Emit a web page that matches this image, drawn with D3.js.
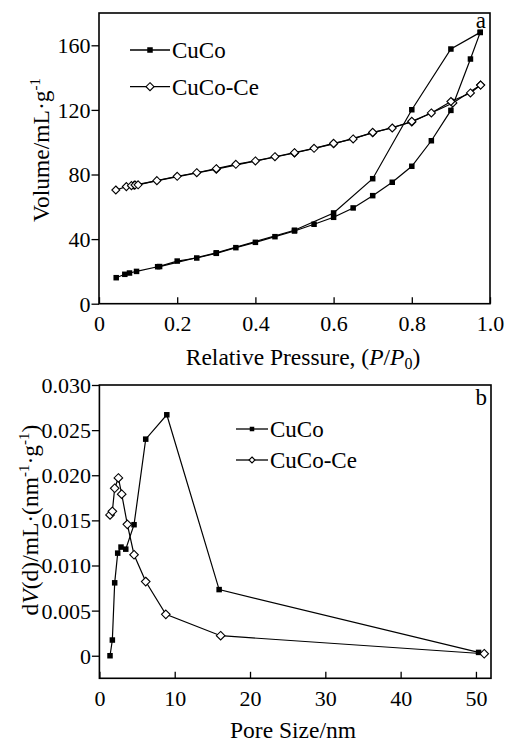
<!DOCTYPE html>
<html>
<head>
<meta charset="utf-8">
<script src="https://cdn.jsdelivr.net/npm/d3@7"></script>
<style>
  body { margin: 0; background: #fff; }
  text { font-family: "Liberation Serif", "Times New Roman", serif; fill: #000; }
</style>
</head>
<body>
<div id="chart"></div>
<script>
// data: (a) N2 isotherms
var adsPressureCuCo = [0.044, 0.066, 0.078, 0.096, 0.15, 0.2, 0.25, 0.3, 0.35, 0.4, 0.45, 0.5, 0.55, 0.6, 0.65, 0.7, 0.75, 0.8, 0.85, 0.9, 0.95, 0.975];
var adsVolumeCuCo = [16.1, 18.2, 19.0, 20.0, 22.9, 26.4, 28.3, 31.2, 34.7, 38.0, 41.5, 45.0, 49.2, 53.5, 59.3, 66.9, 75.2, 85.1, 100.9, 119.7, 151.5, 168.0];
var desPressureCuCo = [0.975, 0.9, 0.8, 0.7, 0.6, 0.5, 0.3, 0.155];
var desVolumeCuCo = [168.0, 157.7, 120.1, 77.4, 56.2, 45.5, 31.5, 23.0];

var adsPressureCe = [0.043, 0.07, 0.083, 0.092, 0.1, 0.148, 0.2, 0.25, 0.3, 0.35, 0.4, 0.45, 0.5, 0.55, 0.6, 0.65, 0.7, 0.75, 0.8, 0.85, 0.9, 0.95, 0.976];
var adsVolumeCe = [70.4, 72.5, 73.1, 73.5, 73.6, 76.2, 78.9, 81.1, 83.6, 86.3, 88.4, 91.0, 93.5, 96.2, 99.3, 102.0, 106.1, 108.8, 112.9, 118.1, 125.2, 130.5, 135.4];
var desPressureCe = [0.976, 0.905, 0.8, 0.7, 0.6, 0.5, 0.3, 0.09];
var desVolumeCe = [135.4, 124.3, 112.5, 105.8, 99.0, 93.3, 83.3, 73.4];

// data: (b) pore size distribution
var poreSizeCuCo = [1.41, 1.72, 2.03, 2.43, 2.87, 3.5, 4.6, 6.15, 8.95, 15.9, 50.35];
var dVCuCo = [0.0, 0.00174, 0.00808, 0.01137, 0.01204, 0.01181, 0.01452, 0.0240, 0.0267, 0.00733, 0.00037];
var poreSizeCe = [1.41, 1.72, 2.03, 2.52, 2.96, 3.71, 4.6, 6.15, 8.82, 16.1, 51.1];
var dVCe = [0.0156, 0.0160, 0.01856, 0.0197, 0.0179, 0.01456, 0.01119, 0.00822, 0.00459, 0.00222, 0.00022];

var seriesNames = ["CuCo", "CuCo-Ce"];
var xTicksA = [0, 0.2, 0.4, 0.6, 0.8, 1.0];
var yTicksA = [0, 40, 80, 120, 160];
var xTicksB = [0, 10, 20, 30, 40, 50];
var yTicksB = [0, 0.005, 0.010, 0.015, 0.020, 0.025, 0.030];

var svgWidth = 508;
var svgHeight = 742;
var tickFont = 22;
var titleFont = 23.5;
var legendFont = 23;

var svg = d3.select("#chart")
  .append("svg")
  .attr("width", svgWidth)
  .attr("height", svgHeight);

// panel boxes
var boxA = { left: 99, top: 13, width: 391, height: 290.7 };
var boxB = { left: 99.4, top: 385, width: 391.6, height: 293.3 };

function zip(xs, ys) {
  return xs.map(function(x, i) { return [x, ys[i]]; });
}

// draw frame, ticks and tick labels for one panel
function drawAxes(g, box, x, y, xTicks, yTicks, xFmt, yFmt) {
  var xAxis = d3.axisBottom(x).tickValues(xTicks).tickSize(-6.5).tickPadding(12).tickFormat(xFmt);
  var yAxis = d3.axisLeft(y).tickValues(yTicks).tickSize(7.5).tickPadding(1).tickFormat(yFmt);

  var gx = g.append("g")
    .attr("transform", `translate(0, ${box.height})`)
    .call(xAxis);
  var gy = g.append("g").call(yAxis);

  [gx, gy].forEach(function(a) {
    a.select(".domain").remove();
    a.selectAll("line").attr("stroke", "#000").attr("stroke-width", 1.3);
    a.selectAll("text")
      .attr("font-size", tickFont)
      .attr("font-family", "Liberation Serif, serif")
      .attr("fill", "#000");
  });
  gx.selectAll("text").attr("dy", "0.71em");
  gy.selectAll("text").attr("dy", "0.34em");

  g.append("rect")
    .attr("width", box.width)
    .attr("height", box.height)
    .attr("fill", "none")
    .attr("stroke", "#000")
    .attr("stroke-width", 1.6);
}

function drawLine(g, pts, x, y) {
  g.append("path")
    .datum(pts)
    .attr("fill", "none")
    .attr("stroke", "#000")
    .attr("stroke-width", 1.2)
    .attr("d", d3.line().x(d => x(d[0])).y(d => y(d[1])));
}

function drawSquares(g, pts, x, y, s) {
  g.selectAll(null)
    .data(pts)
    .enter()
    .append("rect")
    .attr("x", d => x(d[0]) - s / 2)
    .attr("y", d => y(d[1]) - s / 2)
    .attr("width", s)
    .attr("height", s)
    .attr("fill", "#000");
}

function drawDiamonds(g, pts, x, y, r) {
  g.selectAll(null)
    .data(pts)
    .enter()
    .append("path")
    .attr("transform", d => `translate(${x(d[0])}, ${y(d[1])})`)
    .attr("d", `M0,${-r}L${r},0L0,${r}L${-r},0Z`)
    .attr("fill", "#fff")
    .attr("stroke", "#000")
    .attr("stroke-width", 1.1);
}

function drawLegend(g, lx, ly, gap, lineLen, sq, dr, size) {
  seriesNames.forEach(function(name, i) {
    var yy = ly + i * gap;
    g.append("line")
      .attr("x1", lx).attr("x2", lx + lineLen)
      .attr("y1", yy).attr("y2", yy)
      .attr("stroke", "#000").attr("stroke-width", 1.3);
    var mx = lx + lineLen / 2;
    if (i === 0) {
      g.append("rect")
        .attr("x", mx - sq / 2).attr("y", yy - sq / 2)
        .attr("width", sq).attr("height", sq)
        .attr("fill", "#000");
    } else {
      g.append("path")
        .attr("transform", `translate(${mx}, ${yy})`)
        .attr("d", `M0,${-dr}L${dr},0L0,${dr}L${-dr},0Z`)
        .attr("fill", "#fff").attr("stroke", "#000").attr("stroke-width", 1.1);
    }
    g.append("text")
      .attr("x", lx + lineLen + 2)
      .attr("y", yy)
      .attr("dy", "0.35em")
      .attr("font-size", size)
      .text(name);
  });
}

//////////////////////////////////////////////////////
// panel a
var gA = svg.append("g").attr("transform", `translate(${boxA.left}, ${boxA.top})`);
var xA = d3.scaleLinear().domain([0, 1.0]).range([0, boxA.width]);
var yA = d3.scaleLinear().domain([0, 180]).range([boxA.height, 0]);

drawAxes(gA, boxA, xA, yA, xTicksA, yTicksA,
  d => d === 0 ? "0" : d3.format(".1f")(d),
  d3.format("d"));

var ceAds = zip(adsPressureCe, adsVolumeCe);
var ceDes = zip(desPressureCe, desVolumeCe);
var cuAds = zip(adsPressureCuCo, adsVolumeCuCo);
var cuDes = zip(desPressureCuCo, desVolumeCuCo);

drawLine(gA, ceAds, xA, yA);
drawLine(gA, ceDes, xA, yA);
drawLine(gA, cuAds, xA, yA);
drawLine(gA, cuDes, xA, yA);
drawDiamonds(gA, ceDes, xA, yA, 4);
drawDiamonds(gA, ceAds, xA, yA, 4);
drawSquares(gA, cuAds, xA, yA, 5.5);
drawSquares(gA, cuDes, xA, yA, 5.5);

drawLegend(gA, 130 - boxA.left, 50 - boxA.top, 36.7, 40, 5.5, 4, legendFont);

gA.append("text")
  .attr("x", boxA.width - 4)
  .attr("y", 15)
  .attr("text-anchor", "end")
  .attr("font-size", legendFont)
  .text("a");

// x title a
var tA = svg.append("text")
  .attr("x", 303)
  .attr("y", 365)
  .attr("text-anchor", "middle")
  .attr("font-size", titleFont);
tA.append("tspan").text("Relative Pressure, (");
tA.append("tspan").attr("font-style", "italic").text("P");
tA.append("tspan").text("/");
tA.append("tspan").attr("font-style", "italic").text("P");
tA.append("tspan").attr("font-size", 16).attr("dy", 4).text("0");
tA.append("tspan").attr("dy", -4).text(")");

// y title a
var vA = svg.append("text")
  .attr("transform", "translate(49, 150) rotate(-90)")
  .attr("text-anchor", "middle")
  .attr("font-size", titleFont);
vA.append("tspan").text("Volume/mL·g");
vA.append("tspan").attr("font-size", 15).attr("dy", -9).text("-1");

//////////////////////////////////////////////////////
// panel b
var gB = svg.append("g").attr("transform", `translate(${boxB.left}, ${boxB.top})`);
var xB = d3.scaleLinear().domain([0, 52]).range([0, boxB.width]);
var yB = d3.scaleLinear().domain([-0.0025, 0.030]).range([boxB.height, 0]);

drawAxes(gB, boxB, xB, yB, xTicksB, yTicksB,
  d3.format("d"),
  d => d === 0 ? "0" : d3.format(".3f")(d));

var cuPore = zip(poreSizeCuCo, dVCuCo);
var cePore = zip(poreSizeCe, dVCe);

drawLine(gB, cuPore, xB, yB);
drawLine(gB, cePore, xB, yB);
drawSquares(gB, cuPore, xB, yB, 5.5);
drawDiamonds(gB, cePore, xB, yB, 4.3);

drawLegend(gB, 236 - boxB.left, 429 - boxB.top, 31, 32, 4.5, 3, legendFont);

gB.append("text")
  .attr("x", boxB.width - 4)
  .attr("y", 20)
  .attr("text-anchor", "end")
  .attr("font-size", legendFont)
  .text("b");

// x title b
svg.append("text")
  .attr("x", 293)
  .attr("y", 738)
  .attr("text-anchor", "middle")
  .attr("font-size", titleFont)
  .text("Pore Size/nm");

// y title b
var vB = svg.append("text")
  .attr("transform", "translate(38, 520) rotate(-90)")
  .attr("text-anchor", "middle")
  .attr("font-size", titleFont);
vB.append("tspan").text("d");
vB.append("tspan").attr("font-style", "italic").text("V");
vB.append("tspan").text("(d)/mL·(nm");
vB.append("tspan").attr("font-size", 15).attr("dy", -9).text("-1");
vB.append("tspan").attr("dy", 9).text("·g");
vB.append("tspan").attr("font-size", 15).attr("dy", -9).text("-1");
vB.append("tspan").attr("dy", 9).text(")");
</script>
</body>
</html>
